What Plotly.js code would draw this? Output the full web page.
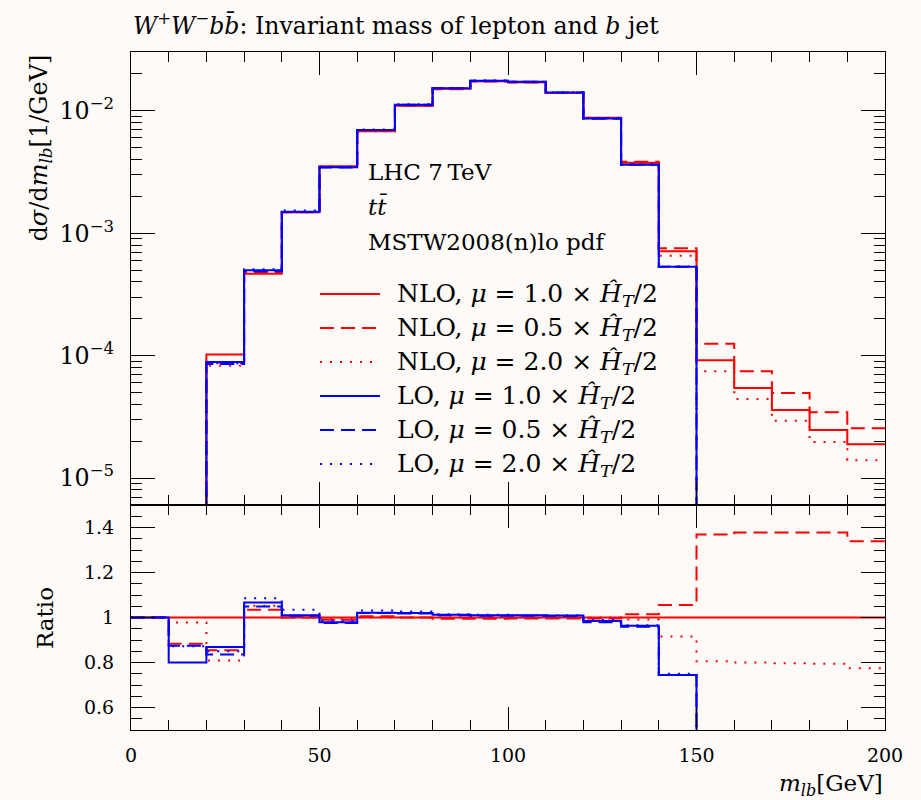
<!DOCTYPE html>
<html>
<head>
<meta charset="utf-8">
<script src="https://cdn.plot.ly/plotly-3.0.1.min.js"></script>
<style>
  html, body { margin: 0; padding: 0; background: #fdfaf7; }
  #chart { width: 921px; height: 800px; }
</style>
</head>
<body>
<div id="chart"></div>
<script>
// ---- data ----
const binEdges = [0,10,20,30,40,50,60,70,80,90,100,110,120,130,140,150,160,170,180,190,200];

// dσ/dm_lb [1/GeV], one value per 10 GeV bin
const nlo10 = [0, 3.0e-6, 1.02e-4, 4.67e-4, 1.48e-3, 3.52e-3, 6.81e-3, 1.10e-2, 1.51e-2, 1.745e-2, 1.71e-2, 1.40e-2, 8.77e-3, 3.77e-3, 7.13e-4, 9.15e-5, 5.44e-5, 3.60e-5, 2.47e-5, 1.89e-5];
const nlo05 = [0, 2.65e-6, 8.72e-5, 4.83e-4, 1.48e-3, 3.48e-3, 6.85e-3, 1.10e-2, 1.50e-2, 1.736e-2, 1.703e-2, 1.394e-2, 8.73e-3, 3.83e-3, 7.55e-4, 1.25e-4, 7.45e-5, 4.95e-5, 3.44e-5, 2.55e-5];
const nlo20 = [0, 2.93e-6, 8.25e-5, 4.90e-4, 1.48e-3, 3.50e-3, 6.81e-3, 1.10e-2, 1.51e-2, 1.745e-2, 1.71e-2, 1.40e-2, 8.77e-3, 3.74e-3, 6.53e-4, 7.45e-5, 4.42e-5, 2.94e-5, 1.97e-5, 1.40e-5];
const lo10  = [0, 2.40e-6, 8.86e-5, 4.98e-4, 1.495e-3, 3.45e-3, 6.95e-3, 1.122e-2, 1.528e-2, 1.762e-2, 1.727e-2, 1.413e-2, 8.64e-3, 3.63e-3, 5.31e-4, 0, 0, 0, 0, 0];
const lo05  = [0, 2.63e-6, 8.53e-5, 4.90e-4, 1.49e-3, 3.44e-3, 6.95e-3, 1.12e-2, 1.525e-2, 1.759e-2, 1.724e-2, 1.41e-2, 8.59e-3, 3.62e-3, 5.31e-4, 0, 0, 0, 0, 0];
const lo20  = [0, 2.62e-6, 8.67e-5, 5.07e-4, 1.53e-3, 3.47e-3, 7.02e-3, 1.13e-2, 1.533e-2, 1.766e-2, 1.727e-2, 1.414e-2, 8.68e-3, 3.64e-3, 5.35e-4, 0, 0, 0, 0, 0];

// ratio to NLO, mu = 1.0
const rNlo10 = [1,1,1,1,1,1,1,1,1,1,1,1,1,1,1,1,1,1,1,1];
const rNlo05 = [1, 0.883, 0.855, 1.034, 1.0, 0.99, 1.006, 1.0, 0.994, 0.995, 0.996, 0.996, 0.996, 1.015, 1.056, 1.369, 1.378, 1.378, 1.378, 1.339];
const rNlo20 = [1, 0.978, 0.809, 1.052, 1.0, 0.995, 1.0, 1.0, 1.0, 1.0, 1.0, 1.0, 1.0, 0.991, 0.916, 0.806, 0.80, 0.797, 0.795, 0.775];
const rLo10  = [1, 0.80, 0.869, 1.067, 1.010, 0.979, 1.021, 1.02, 1.012, 1.01, 1.01, 1.009, 0.985, 0.963, 0.745, 0, 0, 0, 0, 0];
const rLo05  = [1, 0.875, 0.836, 1.049, 1.008, 0.976, 1.02, 1.018, 1.01, 1.008, 1.008, 1.007, 0.979, 0.959, 0.745, 0, 0, 0, 0, 0];
const rLo20  = [1, 0.872, 0.85, 1.086, 1.034, 0.985, 1.031, 1.027, 1.015, 1.012, 1.01, 1.01, 0.99, 0.966, 0.75, 0, 0, 0, 0, 0];

const seriesLabels = [
  "NLO, <i>μ</i> = 1.0 × <i>Ĥ</i><sub><i>T</i></sub>/2",
  "NLO, <i>μ</i> = 0.5 × <i>Ĥ</i><sub><i>T</i></sub>/2",
  "NLO, <i>μ</i> = 2.0 × <i>Ĥ</i><sub><i>T</i></sub>/2",
  "LO, <i>μ</i> = 1.0 × <i>Ĥ</i><sub><i>T</i></sub>/2",
  "LO, <i>μ</i> = 0.5 × <i>Ĥ</i><sub><i>T</i></sub>/2",
  "LO, <i>μ</i> = 2.0 × <i>Ĥ</i><sub><i>T</i></sub>/2"
];
const infoLines = ["LHC 7\u2009TeV", "<i>tt̄</i>", "MSTW2008(n)lo pdf"];
const upperSeries = [nlo10, nlo05, nlo20, lo10, lo05, lo20];
const ratioSeries = [rNlo10, rNlo05, rNlo20, rLo10, rLo05, rLo20];

// ---- styles ----
const RED = "#ff0000", BLUE = "#0000ff";
const colors = [RED, RED, RED, BLUE, BLUE, BLUE];
const dashes = ["solid", "14px,7px", "2px,8px", "solid", "14px,7px", "2px,8px"];
const FONT = "DejaVu Serif, Liberation Serif, serif";

function stepY(vals, floor) {
  const y = vals.map(v => (floor !== undefined && v <= 0) ? floor : v);
  y.push(y[y.length - 1]);
  return y;
}

const traces = [];
upperSeries.forEach((s, i) => {
  traces.push({
    x: binEdges, y: stepY(s, 1e-9), xaxis: "x", yaxis: "y",
    mode: "lines", line: {shape: "hv", color: colors[i], width: 2, dash: dashes[i]},
    showlegend: false, hoverinfo: "skip"
  });
});
ratioSeries.forEach((s, i) => {
  traces.push({
    x: binEdges, y: stepY(s), xaxis: "x2", yaxis: "y2",
    mode: "lines", line: {shape: "hv", color: colors[i], width: 2, dash: dashes[i]},
    showlegend: false, hoverinfo: "skip"
  });
});

// geometry (pixels -> paper)
const L = 131, R = 885, T = 52, B = 730;
const W = R - L, H = B - T;
const px = p => (p - L) / W;
const py = p => (B - p) / H;
const split = py(505);

const shapes = [];
const annotations = [];
const legendRows = [294, 328, 362, 396, 430, 464];
seriesLabels.forEach((lab, i) => {
  shapes.push({type: "line", xref: "paper", yref: "paper",
    x0: px(320), x1: px(380), y0: py(legendRows[i]), y1: py(legendRows[i]),
    line: {color: colors[i], width: 2, dash: dashes[i]}});
  annotations.push({xref: "paper", yref: "paper", x: px(395), y: py(legendRows[i] + 1),
    xanchor: "left", yanchor: "middle", showarrow: false, text: lab,
    font: {family: FONT, size: 25, color: "#000"}});
});

const infoRows = [172, 207, 242];
infoLines.forEach((t, i) => {
  annotations.push({xref: "paper", yref: "paper", x: px(366), y: py(infoRows[i]),
    xanchor: "left", yanchor: "middle", showarrow: false, text: t,
    font: {family: FONT, size: 23, color: "#000"}});
});

annotations.push({xref: "paper", yref: "paper", x: px(40), y: py(53),
  xanchor: "center", yanchor: "top", textangle: -90, showarrow: false,
  text: "d<i>σ</i>/d<i>m</i><sub><i>lb</i></sub>[1/GeV]",
  font: {family: FONT, size: 24, color: "#000"}});
annotations.push({xref: "paper", yref: "paper", x: px(45), y: py(618),
  xanchor: "center", yanchor: "middle", textangle: -90, showarrow: false,
  text: "Ratio", font: {family: FONT, size: 23, color: "#000"}});
annotations.push({xref: "paper", yref: "paper", x: 1, y: py(785),
  xanchor: "right", yanchor: "middle", showarrow: false,
  text: "<i>m</i><sub><i>lb</i></sub>[GeV]", font: {family: FONT, size: 23, color: "#000"}});
annotations.push({xref: "paper", yref: "paper", x: 0, y: py(24),
  xanchor: "left", yanchor: "middle", showarrow: false,
  text: "<i>W</i><sup>+</sup><i>W</i><sup>−</sup><i>bb̄</i>: Invariant mass of lepton and <i>b</i> jet",
  font: {family: FONT, size: 23.6, color: "#000"}});

const tickFont = {family: FONT, size: 19, color: "#000"};
const commonX = {
  range: [0, 200], tickmode: "linear", tick0: 0, dtick: 50,
  ticks: "inside", ticklen: 23, tickcolor: "#000", tickwidth: 1,
  minor: {ticks: "inside", dtick: 10, ticklen: 10, tickcolor: "#000", tickwidth: 1, showgrid: false},
  showline: true, linecolor: "#000", linewidth: 1, mirror: "ticks",
  showgrid: false, zeroline: false, tickfont: tickFont
};

const layout = {
  width: 921, height: 800,
  paper_bgcolor: "#fdfaf7", plot_bgcolor: "#fdfaf7",
  margin: {l: L, r: 921 - R, t: T, b: 800 - B},
  showlegend: false,
  xaxis: Object.assign({}, commonX, {anchor: "y", showticklabels: false, matches: "x2"}),
  xaxis2: Object.assign({}, commonX, {anchor: "y2", showticklabels: true, ticklabelstandoff: 8}),
  yaxis: {
    domain: [split, 1], anchor: "x", type: "log", range: [-5.22, -1.52],
    tickmode: "linear", tick0: 0, dtick: 1, exponentformat: "power", showexponent: "all",
    ticks: "inside", ticklen: 24, tickcolor: "#000", tickwidth: 1,
    minor: {ticks: "inside", dtick: "D1", ticklen: 11, tickcolor: "#000", tickwidth: 1, showgrid: false},
    showline: true, linecolor: "#000", linewidth: 1, mirror: "ticks",
    showgrid: false, zeroline: false, tickfont: tickFont, ticklabelstandoff: 12
  },
  yaxis2: {
    domain: [0, split], anchor: "x2", range: [0.5, 1.5],
    tickmode: "linear", tick0: 0, dtick: 0.2,
    ticks: "inside", ticklen: 24, tickcolor: "#000", tickwidth: 1,
    minor: {ticks: "inside", dtick: 0.05, ticklen: 11, tickcolor: "#000", tickwidth: 1, showgrid: false},
    showline: true, linecolor: "#000", linewidth: 1, mirror: "ticks",
    showgrid: false, zeroline: false, tickfont: tickFont, ticklabelstandoff: 12
  },
  shapes: shapes,
  annotations: annotations
};

Plotly.newPlot("chart", traces, layout, {staticPlot: true, displayModeBar: false});
</script>
</body>
</html>
